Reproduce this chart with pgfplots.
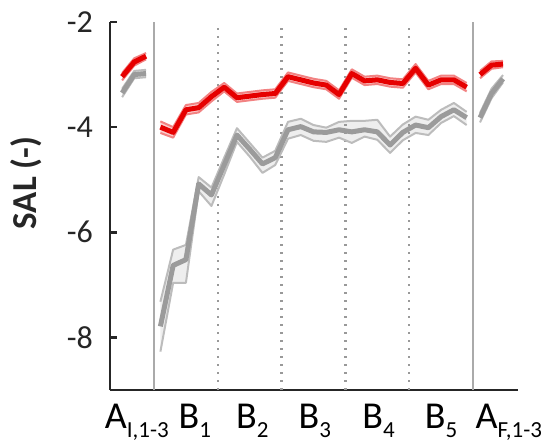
\documentclass[border=0pt]{standalone}
\usepackage{fontspec}
\setmainfont{Carlito}
\usepackage{pgfplots}
\usepackage{pgfplotstable}
\pgfplotsset{compat=1.18}
\usepgfplotslibrary{fillbetween}
\usetikzlibrary{calc}

\definecolor{redm}{RGB}{230,0,0}
\definecolor{rede}{RGB}{242,130,130}
\definecolor{redf}{RGB}{251,205,205}
\definecolor{graym}{RGB}{155,155,155}
\definecolor{graye}{RGB}{188,188,188}
\definecolor{grayf}{RGB}{238,238,238}
\definecolor{axc}{RGB}{38,38,38}
\definecolor{sep}{RGB}{170,170,170}

% x: 0..5 = block B1..B5, A_I left of 0, A_F right of 5
\pgfplotstableread{
x rm rl ru gm gl gu
-0.50 -3.04 -3.11 -2.97 -3.35 -3.43 -3.27
-0.31 -2.76 -2.83 -2.69 -3.00 -3.07 -2.93
-0.125 -2.65 -2.71 -2.59 -2.98 -3.05 -2.91
}\tabAI

\pgfplotstableread{
x rm rl ru gm gl gu
0.1 -4.00 -4.11 -3.89 -7.79 -8.27 -7.32
0.3 -4.10 -4.20 -4.00 -6.63 -6.96 -6.33
0.5 -3.67 -3.76 -3.58 -6.52 -6.96 -6.24
0.7 -3.63 -3.72 -3.54 -5.08 -5.22 -4.95
0.9 -3.42 -3.51 -3.33 -5.29 -5.50 -5.15
1.1 -3.24 -3.32 -3.16 -4.72 -4.90 -4.58
1.3 -3.44 -3.52 -3.36 -4.15 -4.28 -4.02
1.5 -3.41 -3.49 -3.33 -4.42 -4.56 -4.30
1.7 -3.38 -3.46 -3.30 -4.70 -4.87 -4.58
1.9 -3.36 -3.44 -3.28 -4.58 -4.72 -4.45
2.1 -3.04 -3.12 -2.96 -4.05 -4.22 -3.90
2.3 -3.10 -3.18 -3.02 -3.99 -4.15 -3.84
2.5 -3.16 -3.24 -3.08 -4.09 -4.26 -3.96
2.7 -3.20 -3.28 -3.12 -4.10 -4.28 -4.01
2.9 -3.38 -3.46 -3.30 -4.05 -4.20 -3.90
3.1 -2.98 -3.06 -2.90 -4.09 -4.30 -3.88
3.3 -3.12 -3.20 -3.04 -4.05 -4.18 -3.88
3.5 -3.10 -3.18 -3.02 -4.09 -4.24 -3.86
3.7 -3.15 -3.23 -3.07 -4.34 -4.49 -4.18
3.9 -3.17 -3.25 -3.09 -4.10 -4.25 -3.95
4.1 -2.88 -2.96 -2.80 -3.96 -4.11 -3.80
4.3 -3.20 -3.28 -3.12 -4.01 -4.15 -3.86
4.5 -3.10 -3.18 -3.02 -3.80 -3.92 -3.67
4.7 -3.10 -3.18 -3.02 -3.67 -3.79 -3.54
4.9 -3.24 -3.32 -3.16 -3.82 -3.96 -3.71
}\tabB

\pgfplotstableread{
x rm rl ru gm gl gu
5.11 -3.00 -3.07 -2.93 -3.82 -3.91 -3.73
5.29 -2.82 -2.89 -2.75 -3.36 -3.45 -3.27
5.47 -2.80 -2.86 -2.74 -3.08 -3.15 -3.01
}\tabAF

\newcommand{\sub}[1]{\raisebox{-9bp}{\fontsize{23bp}{23bp}\selectfont #1}}

% one group: grey band + mean, then red band + mean
\newcommand{\group}[1]{%
  \addplot[draw=none, name path=gu] table[x=x,y=gu]{#1};
  \addplot[draw=none, name path=gl] table[x=x,y=gl]{#1};
  \addplot[grayf] fill between[of=gu and gl];
  \addplot[graye, line width=2bp] table[x=x,y=gu]{#1};
  \addplot[graye, line width=2bp] table[x=x,y=gl]{#1};
  \addplot[graym, line width=5bp] table[x=x,y=gm]{#1};
  \addplot[draw=none, name path=ru] table[x=x,y=ru]{#1};
  \addplot[draw=none, name path=rl] table[x=x,y=rl]{#1};
  \addplot[redf] fill between[of=ru and rl];
  \addplot[rede, line width=2bp] table[x=x,y=ru]{#1};
  \addplot[rede, line width=2bp] table[x=x,y=rl]{#1};
  \addplot[redm, line width=5bp] table[x=x,y=rm]{#1};
}

\begin{document}
\begin{tikzpicture}
\begin{axis}[
  scale only axis, width=408bp, height=368bp,
  xmin=-0.69, xmax=5.705, ymin=-9, ymax=-2,
  axis x line=bottom, axis y line=left,
  axis line style={-, axc, line width=2.5bp},
  ytick={-8,-6,-4,-2}, yticklabels={-8,-6,-4,-2},
  xtick={-0.27,0.64,1.54,2.52,3.52,4.5,5.56},
  xticklabels={{A\sub{I,1-3}},{B\sub{1}},{B\sub{2}},{B\sub{3}},{B\sub{4}},{B\sub{5}},{A\sub{F,1-3}}},
  major x tick style={draw=none},
  major y tick style={axc, line width=2.5bp},
  major tick length=7bp,
  tick align=inside,
  yticklabel style={font=\fontsize{32bp}{32bp}\selectfont, text=axc, inner sep=0pt, xshift=-17bp},
  xticklabel style={font=\fontsize{38bp}{38bp}\selectfont, text=black, inner sep=0pt, anchor=base, yshift=-38bp},
  ylabel={SAL (-)},
  ylabel style={at={(axis description cs:-0.2059,0.5625)}, anchor=center, font=\bfseries\fontsize{35bp}{35bp}\selectfont, text=axc},
  clip=false,
  line join=round,
]
\coordinate (O) at (rel axis cs:0,0);
\draw[sep, line width=1.3bp] (axis cs:0,-9) -- (axis cs:0,-2);
\draw[sep, line width=1.3bp] (axis cs:5,-9) -- (axis cs:5,-2);
\foreach \k in {1,2,3,4}{
  \edef\tmp{\noexpand\draw[gray!80, line width=2.4bp, dash pattern=on 2.4bp off 5.6bp] (axis cs:\k,-9) -- (axis cs:\k,-2);}\tmp
}
\group{\tabAI}
\group{\tabB}
\group{\tabAF}
\end{axis}
\pgfresetboundingbox
\path[use as bounding box] ($(O)+(-110bp,-54bp)$) rectangle ($(O)+(439bp,390bp)$);
\end{tikzpicture}
\end{document}
